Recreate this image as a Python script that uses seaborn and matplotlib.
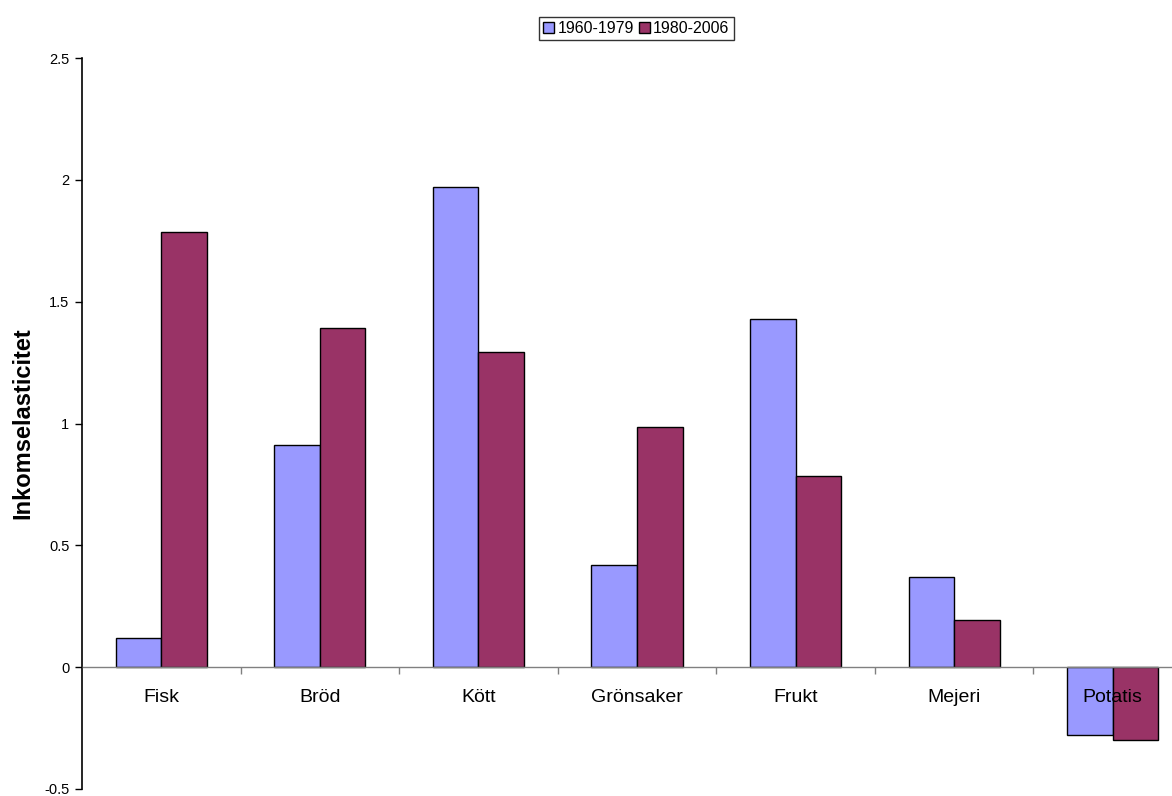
import matplotlib
matplotlib.use("Agg")
import matplotlib.pyplot as plt
import matplotlib.ticker as mticker
import numpy as np
import pandas as pd
import seaborn as sns

categories = ["Fisk", "Bröd", "Kött", "Grönsaker", "Frukt", "Mejeri", "Potatis"]
period_1960_1979 = [0.12, 0.91, 1.97, 0.42, 1.43, 0.37, -0.28]
period_1980_2006 = [1.785, 1.39, 1.295, 0.985, 0.785, 0.195, -0.30]
series_names = ["1960-1979", "1980-2006"]
y_ticks = [-0.5, 0, 0.5, 1, 1.5, 2, 2.5]

df = pd.DataFrame({
    "Kategori": categories * 2,
    "Period": [series_names[0]] * len(categories) + [series_names[1]] * len(categories),
    "Värde": period_1960_1979 + period_1980_2006,
})

sns.set_style("white")
plt.rcParams["font.family"] = ["Liberation Sans", "DejaVu Sans"]
plt.rcParams["text.color"] = "black"
plt.rcParams["axes.labelcolor"] = "black"
plt.rcParams["xtick.labelcolor"] = "black"
plt.rcParams["ytick.labelcolor"] = "black"

fig = plt.figure(figsize=(11.72, 7.96), dpi=100)
ax = fig.add_axes([82 / 1172, 7 / 796, 1110 / 1172, 731 / 796])

palette = {series_names[0]: "#9999FF", series_names[1]: "#993366"}
sns.barplot(data=df, x="Kategori", y="Värde", hue="Period", order=categories,
            hue_order=series_names, palette=palette, width=0.574, gap=0,
            edgecolor="black", linewidth=1.0, saturation=1, ax=ax, legend=True)

ax.set_xlim(-0.5, len(categories) - 0.5)
ax.set_ylim(-0.5, 2.5)
ax.set_yticks(y_ticks)
ax.yaxis.set_major_formatter(mticker.FormatStrFormatter("%g"))
ax.tick_params(axis="y", direction="out", length=5, width=1, color="black",
               labelsize=10.5, labelcolor="black", pad=4, left=True)

# category axis sits on the zero line; separators between categories
ax.spines["bottom"].set_position(("data", 0))
ax.spines["bottom"].set_color("#808080")
ax.spines["bottom"].set_linewidth(1.0)
ax.spines["left"].set_color("black")
ax.spines["left"].set_linewidth(1.2)
ax.spines["top"].set_visible(False)
ax.spines["right"].set_visible(False)
ax.set_xticks(np.arange(len(categories)) + 0.5, minor=True)
ax.tick_params(axis="x", which="minor", direction="out", length=5, width=1,
               color="#808080", bottom=True)
ax.tick_params(axis="x", which="major", length=0, labelsize=14,
               labelcolor="black", pad=16)
ax.set_axisbelow(False)

ax.set_xlabel("")
ax.set_ylabel("Inkomselasticitet", fontsize=17, fontweight="bold",
              color="black", labelpad=7)
ax.grid(False)

leg = ax.legend(loc="lower center", bbox_to_anchor=(0.4995, 1.025), ncol=2,
                frameon=True, fontsize=11.5, handlelength=0.7, handleheight=0.7,
                handletextpad=0.2, columnspacing=0.3, borderpad=0.25,
                borderaxespad=0, fancybox=False)
leg.get_frame().set_edgecolor("black")
leg.get_frame().set_linewidth(1.0)
for h in leg.legend_handles:
    h.set_edgecolor("black")
    h.set_linewidth(1.0)
for t in leg.get_texts():
    t.set_color("black")

fig.savefig("out.png", dpi=100, facecolor="white")
